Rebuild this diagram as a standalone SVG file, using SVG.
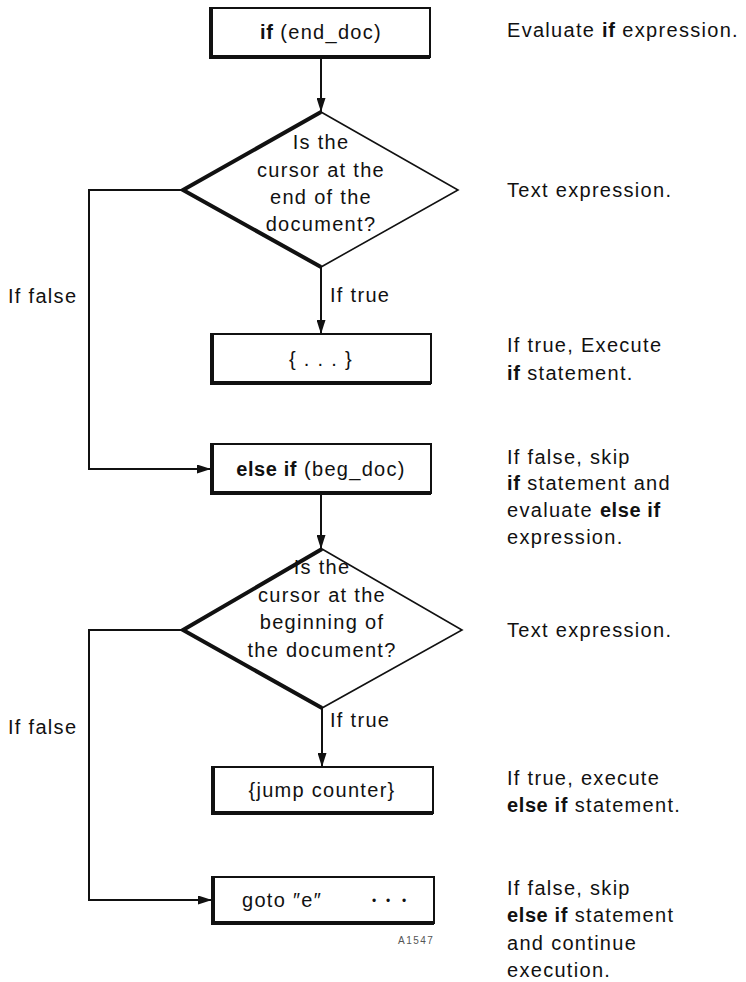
<svg xmlns="http://www.w3.org/2000/svg" width="746" height="982" viewBox="0 0 746 982">
  <style>
    text { font-family: "Liberation Sans", Arial, sans-serif; font-size: 20px; letter-spacing: 1.3px; fill: #111; }
    .c { text-anchor: middle; }
    .b { font-weight: bold; letter-spacing: 0.6px; }
    .box { fill: #fff; stroke: #111; stroke-width: 2; }
    .shade { fill: none; stroke: #111; stroke-width: 4; stroke-linejoin: miter; }
    .dia { fill: #fff; stroke: #111; stroke-width: 1.6; stroke-linejoin: miter; }
    .wire { fill: none; stroke: #111; stroke-width: 2; }
    .dots { font-size: 12px; letter-spacing: 0; }
    .tag { font-size: 10px; letter-spacing: 1.5px; fill: #555; }
  </style>
  <defs>
    <marker id="arrow" viewBox="0 0 14 9" refX="14" refY="4.5" markerWidth="14" markerHeight="9" markerUnits="userSpaceOnUse" orient="auto">
      <path d="M0,0 L14,4.5 L0,9 Z" fill="#111"/>
    </marker>
  </defs>

  <!-- connectors -->
  <g id="connectors">
    <line class="wire" x1="321" y1="58" x2="321" y2="112" marker-end="url(#arrow)"/>
    <line class="wire" x1="321" y1="267" x2="321" y2="334" marker-end="url(#arrow)"/>
    <polyline class="wire" points="183,190 89,190 89,469 211,469" marker-end="url(#arrow)"/>
    <line class="wire" x1="321" y1="494" x2="321" y2="549" marker-end="url(#arrow)"/>
    <line class="wire" x1="322" y1="708" x2="322" y2="767" marker-end="url(#arrow)"/>
    <polyline class="wire" points="183,630 89,630 89,900 212,900" marker-end="url(#arrow)"/>
    <text x="330" y="302">If true</text>
    <text x="330" y="727">If true</text>
    <text x="8" y="303">If false</text>
    <text x="8" y="734">If false</text>
  </g>

  <!-- if (end_doc) -->
  <g id="n-if">
    <rect class="box" x="210" y="8" width="220" height="49"/>
    <path class="shade" d="M211,8 V57 H430"/>
    <text class="c" x="321" y="39"><tspan class="b">if</tspan> (end_doc)</text>
  </g>

  <!-- first decision -->
  <g id="n-test1">
    <polygon class="dia" points="321,112 458,190 321,267 183,190"/>
    <path class="shade" d="M321,112 L183,190 L321,267"/>
    <text class="c" x="321" y="149">Is the</text>
    <text class="c" x="321" y="177">cursor at the</text>
    <text class="c" x="321" y="204">end of the</text>
    <text class="c" x="321" y="231">document?</text>
  </g>

  <!-- { . . . } -->
  <g id="n-body1">
    <rect class="box" x="211" y="334" width="220" height="49"/>
    <path class="shade" d="M212,334 V383 H431"/>
    <text class="c" x="321" y="366">{ .  .  . }</text>
  </g>

  <!-- else if (beg_doc) -->
  <g id="n-elseif">
    <rect class="box" x="211" y="444" width="220" height="49"/>
    <path class="shade" d="M212,444 V493 H431"/>
    <text class="c" x="321" y="476"><tspan class="b">else if</tspan> (beg_doc)</text>
  </g>

  <!-- second decision -->
  <g id="n-test2">
    <polygon class="dia" points="322,549 462,630 322,708 183,630"/>
    <path class="shade" d="M322,549 L183,630 L322,708"/>
    <text class="c" x="322" y="574">Is the</text>
    <text class="c" x="322" y="602">cursor at the</text>
    <text class="c" x="322" y="629">beginning of</text>
    <text class="c" x="322" y="657">the document?</text>
  </g>

  <!-- {jump counter} -->
  <g id="n-body2">
    <rect class="box" x="212" y="767" width="221" height="46"/>
    <path class="shade" d="M213,767 V813 H433"/>
    <text class="c" x="322" y="797">{jump counter}</text>
  </g>

  <!-- goto "e" ... -->
  <g id="n-goto">
    <rect class="box" x="212" y="877" width="222" height="46"/>
    <path class="shade" d="M213,877 V923 H434"/>
    <text x="242" y="907">goto ″e″</text>
    <text class="dots" y="905"><tspan x="372">•</tspan><tspan x="386">•</tspan><tspan x="402">•</tspan></text>
    <text class="tag" x="398" y="944">A1547</text>
  </g>

  <!-- notes column -->
  <g id="notes">
    <text x="507" y="37">Evaluate <tspan class="b">if</tspan> expression.</text>
    <text x="507" y="197">Text expression.</text>
    <text x="507" y="352">If true, Execute</text>
    <text x="507" y="380"><tspan class="b">if</tspan> statement.</text>
    <text x="507" y="464">If false, skip</text>
    <text x="507" y="490"><tspan class="b">if</tspan> statement and</text>
    <text x="507" y="517">evaluate <tspan class="b">else if</tspan></text>
    <text x="507" y="544">expression.</text>
    <text x="507" y="637">Text expression.</text>
    <text x="507" y="785">If true, execute</text>
    <text x="507" y="812"><tspan class="b">else if</tspan> statement.</text>
    <text x="507" y="895">If false, skip</text>
    <text x="507" y="922"><tspan class="b">else if</tspan> statement</text>
    <text x="507" y="950">and continue</text>
    <text x="507" y="977">execution.</text>
  </g>
</svg>
